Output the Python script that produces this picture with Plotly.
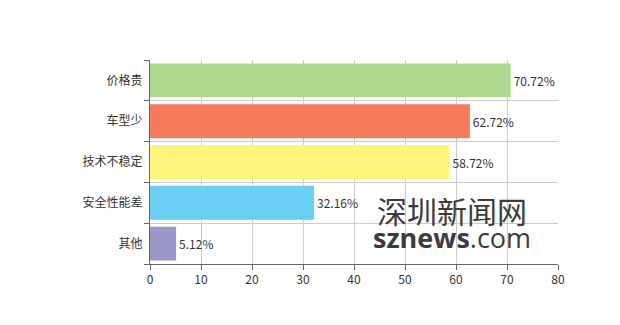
import plotly.graph_objects as go

categories = ["价格贵", "车型少", "技术不稳定", "安全性能差", "其他"]
values = [70.72, 62.72, 58.72, 32.16, 5.12]
colors = ["#add88d", "#f47b5c", "#fff57c", "#6bcff6", "#9b97c9"]
x_ticks = [0, 10, 20, 30, 40, 50, 60, 70, 80]

font = "Noto Sans CJK SC, Microsoft YaHei, sans-serif"

fig = go.Figure(go.Bar(
    x=values, y=categories, orientation="h",
    marker=dict(color=colors, line=dict(width=0)),
    text=[f"{v:.2f}%" for v in values], textposition="outside",
    textfont=dict(size=12, color="#333333", family=font),
    cliponaxis=False, width=0.83,
))

fig.update_layout(
    width=620, height=325,
    margin=dict(l=150, r=62, t=60, b=61),
    paper_bgcolor="white", plot_bgcolor="white",
    showlegend=False,
    font=dict(family=font, size=12, color="#333333"),
    xaxis=dict(range=[0, 80], tickvals=x_ticks, showgrid=True, gridcolor="#cccccc",
               gridwidth=1, showline=True, linecolor="#666666", linewidth=1,
               ticks="outside", ticklen=5, tickcolor="#666666", zeroline=False,
               tickfont=dict(size=12, color="#333333")),
    yaxis=dict(type="category", categoryorder="array",
               categoryarray=categories[::-1], tickson="boundaries",
               showgrid=True, gridcolor="#cccccc", showline=True, linecolor="#666666",
               linewidth=1, ticks="outside", ticklen=5, tickcolor="#666666",
               ticklabelstandoff=4,
               tickfont=dict(size=12, color="#333333"), range=[-0.5, 4.5]),
)
# watermark position in pixels -> paper coords
pw, ph = 620 - 150 - 62, 325 - 60 - 61
def px(xp, yp):
    return (xp - 150) / pw, (325 - 61 - yp) / ph
ax1 = px(452, 222)
fig.add_annotation(
    text=("<span style='font-size:30px'>深圳新闻网</span><br>"
          "<span style='font-size:27px;font-family:Open Sans, sans-serif'><b>sznews</b>.com</span>"),
    x=ax1[0], y=ax1[1], xref="paper", yref="paper",
    xanchor="center", yanchor="middle", align="center",
    showarrow=False, font=dict(size=19, color="#3c3c3c", family=font))

fig.write_html("out.html")
